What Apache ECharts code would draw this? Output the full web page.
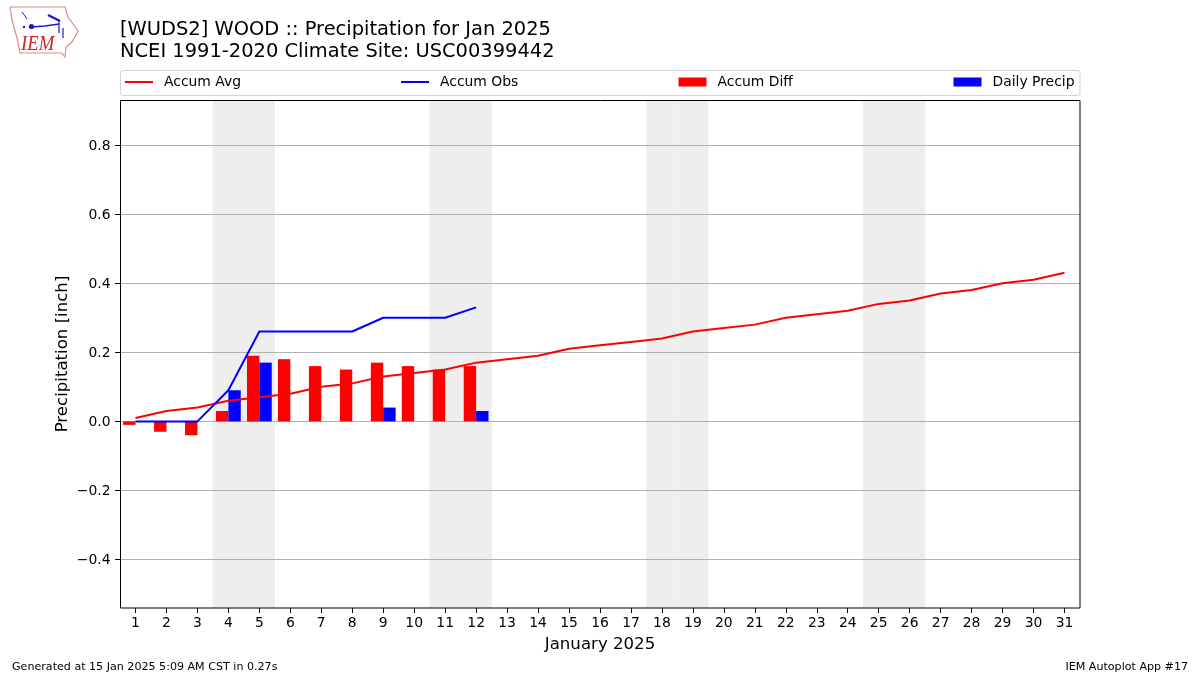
<!DOCTYPE html>
<html><head><meta charset="utf-8">
<script src="https://cdn.jsdelivr.net/npm/echarts@6/dist/echarts.min.js"></script>
<style>html,body{margin:0;padding:0;background:#fff}#c{width:1200px;height:675px}</style>
</head><body><div id="c"></div>
<script>
const days = ['1','2','3','4','5','6','7','8','9','10','11','12','13','14','15','16','17','18','19','20','21','22','23','24','25','26','27','28','29','30','31'];
const accumAvg = [0.01,0.03,0.04,0.06,0.07,0.08,0.10,0.11,0.13,0.14,0.15,0.17,0.18,0.19,0.21,0.22,0.23,0.24,0.26,0.27,0.28,0.30,0.31,0.32,0.34,0.35,0.37,0.38,0.40,0.41,0.43];
const accumObs = [0,0,0,0.09,0.26,0.26,0.26,0.26,0.30,0.30,0.30,0.33];
const accumDiff = [-0.01,-0.03,-0.04,0.03,0.19,0.18,0.16,0.15,0.17,0.16,0.15,0.16];
const dailyPrecip = [0,0,0,0.09,0.17,0,0,0,0.04,0,0,0.03];
const weekendDays = ['4','5','11','12','18','19','25','26'];
const yTicks = [-0.4,-0.2,0,0.2,0.4,0.6,0.8];
const FF = '"DejaVu Sans"';

const chart = echarts.init(document.getElementById('c'), null, {renderer:'canvas'});
const legendItem = (name, left, h) => ({
  show:true, data:[{name, icon:'rect'}], left, top:75, itemWidth:28, itemHeight:h, padding:0, selectedMode:false,
  textStyle:{color:'#000',fontFamily:FF,fontSize:13.9,padding:[0,0,0,6]}
});
const blue = '#1a1acc';
const logoLine = (points, lineWidth, stroke=blue) => ({type:'polyline',z:5,shape:{points},style:{fill:'none',stroke,lineWidth}});
chart.setOption({
  animation:false,
  backgroundColor:'#fff',
  textStyle:{fontFamily:FF},
  title:[
    {text:'[WUDS2] WOOD :: Precipitation for Jan 2025\nNCEI 1991-2020 Climate Site: USC00399442',left:120,top:19,padding:0,
     textStyle:{fontFamily:FF,fontSize:19.45,fontWeight:'normal',color:'#000',lineHeight:22}},
    {text:'Generated at 15 Jan 2025 5:09 AM CST in 0.27s',left:12,top:661.5,padding:0,
     textStyle:{fontFamily:FF,fontSize:11.1,fontWeight:'normal',color:'#000'}},
    {text:'IEM Autoplot App #17',right:12,top:661.5,padding:0,
     textStyle:{fontFamily:FF,fontSize:11.1,fontWeight:'normal',color:'#000'}}
  ],
  legend:[legendItem('Accum Avg',125,2),legendItem('Accum Obs',401,2),legendItem('Accum Diff',678.5,9),legendItem('Daily Precip',953.5,9)],
  grid:{left:120,right:120,top:100,bottom:67,show:false},
  xAxis:[
    {type:'category',data:days,boundaryGap:true,z:1,
     name:'January 2025',nameLocation:'middle',nameGap:28,nameMoveOverlap:false,nameTextStyle:{fontFamily:FF,fontSize:16.6,color:'#000'},
     axisLine:{show:false,onZero:false},
     axisTick:{show:true,alignWithLabel:true,length:5,lineStyle:{color:'#000'}},
     axisLabel:{interval:0,color:'#000',fontFamily:FF,fontSize:13.9,margin:8},
     splitLine:{show:false}},
    {type:'category',data:days,show:false,boundaryGap:true,gridIndex:0,axisLine:{onZero:false}}
  ],
  yAxis:[
    {type:'value',min:-0.54,max:0.93,z:1,
     name:'Precipitation [inch]',nameLocation:'middle',nameGap:49,nameMoveOverlap:false,nameRotate:90,nameTextStyle:{fontFamily:FF,fontSize:16.6,color:'#000'},
     axisLine:{show:false},
     axisTick:{show:true,length:5,lineStyle:{color:'#000'},customValues:yTicks},
     axisLabel:{color:'#000',fontFamily:FF,fontSize:13.9,margin:9.5,customValues:yTicks,
       rich:{a:{fontFamily:FF,fontSize:13.9,color:'#000',padding:[2,0,0,0]}},
       formatter:v=>'{a|'+(v<0?'\u2212':'')+Math.abs(v).toFixed(1)+'}'},
     splitLine:{show:true,lineStyle:{color:'#b0b0b0',width:1,type:'solid'}}},
    {type:'value',min:0,max:1,show:false,gridIndex:0,splitLine:{show:false}}
  ],
  series:[
    {name:'Weekend',type:'bar',xAxisIndex:1,yAxisIndex:1,barWidth:'101%',z:0,silent:true,
     itemStyle:{color:'#eeeeee'},data:days.map(d=>weekendDays.includes(d)?1:null)},
    {name:'Accum Diff',type:'bar',barWidth:'40%',barGap:0,z:2,itemStyle:{color:'#ff0000'},data:accumDiff},
    {name:'Daily Precip',type:'bar',barWidth:'40%',barGap:0,z:2,itemStyle:{color:'#0000ff'},data:dailyPrecip},
    {name:'Accum Avg',type:'line',symbol:'none',z:3,lineStyle:{color:'#ff0000',width:2},itemStyle:{color:'#ff0000'},data:accumAvg},
    {name:'Accum Obs',type:'line',symbol:'none',z:3,lineStyle:{color:'#0000ff',width:2},itemStyle:{color:'#0000ff'},data:accumObs}
  ],
  graphic:[
    {type:'rect',z:-1,shape:{x:120.5,y:70.5,width:959.5,height:25,r:2},style:{fill:'#fff',stroke:'#d4d4d4',lineWidth:1}},
    {type:'rect',z:20,silent:true,shape:{x:120.5,y:100.5,width:959.5,height:507.5},style:{fill:'none',stroke:'#000',lineWidth:1}},
    logoLine([[10,7],[65,7],[68,17],[78,31],[72,42],[66,47],[65,57],[62,53],[20,53],[17,38],[12,20],[10,7]],1.2,'#e08a8a'),
    logoLine([[31,27],[45,26],[59,24]],1.5),
    logoLine([[59,21],[59,33]],1.2),
    logoLine([[63,28],[63,38]],1.2),
    logoLine([[48,15],[54,18],[60,21]],2.5),
    logoLine([[22,12],[25,16],[27,19]],1),
    logoLine([[23,27],[25,27]],2),
    {type:'circle',z:5,shape:{cx:31.5,cy:26.5,r:2.6},style:{fill:blue}},
    {type:'text',z:5,x:21,y:33,scaleX:0.85,style:{text:'IEM',fill:'#cc2222',font:'italic 22px "Liberation Serif"'}}
  ]
});
</script></body></html>
